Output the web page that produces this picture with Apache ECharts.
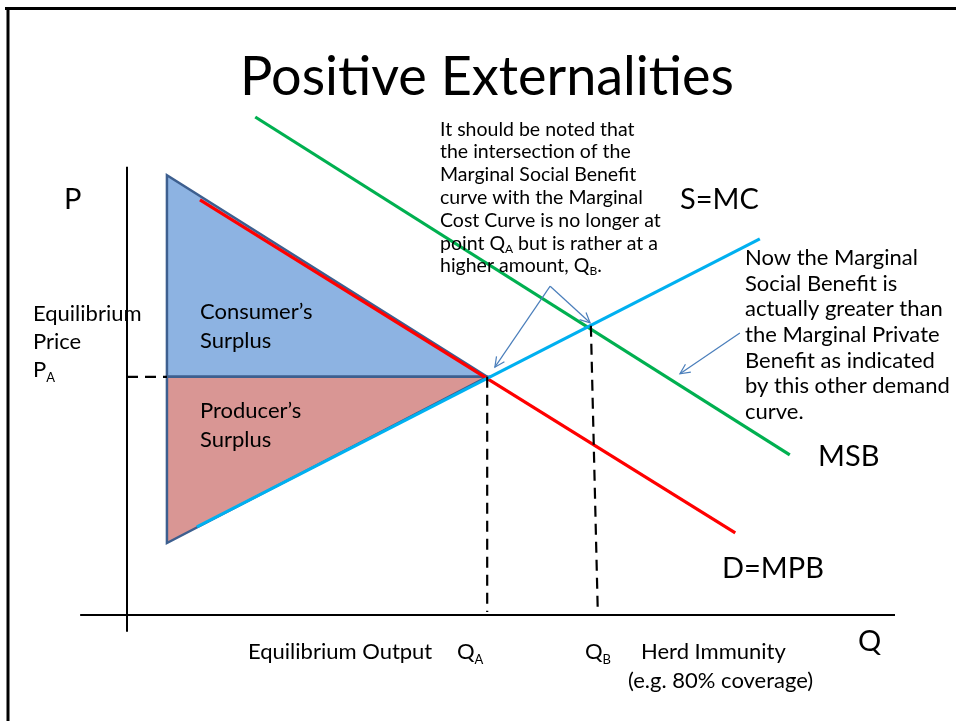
<!DOCTYPE html>
<html>
<head>
<meta charset="utf-8">
<script src="https://cdn.jsdelivr.net/npm/echarts@6/dist/echarts.min.js"></script>
<style>
html,body{margin:0;padding:0;background:#fff;}
#chart{width:956px;height:721px;}
</style>
</head>
<body>
<div id="chart"></div>
<script>
// ---- Data (chart units: quantity on x, price on y) ----
const axisQ = [[-6.1, 0], [100, 0]];
const axisP = [[0, 74.7], [0, -2.8]];
const demandMPB = [[9.5, 69.2], [79.2, 13.7]];
const supplyMC = [[9.1, 14.7], [82.4, 62.7]];
const benefitMSB = [[16.7, 83.0], [86.3, 26.7]];
const consumerSurplus = [[5.2, 73.3], [5.2, 39.7], [46.9, 39.7]];
const producerSurplus = [[5.2, 39.7], [46.9, 39.7], [5.2, 12.0]];
const priceGuidePA = [[0, 39.7], [5.2, 39.7]];
const outputGuideQA = [[46.9, 39.7], [46.9, 0.5]];
const outputGuideQB = [[60.4, 48.2], [61.3, 0.5]];
const calloutArrows = [
  [[55.1, 54.8], [47.9, 41.3]],
  [[55.1, 54.8], [60.3, 48.7]],
  [[79.8, 47.0], [72.0, 40.2]]
];
const titleText = 'Positive Externalities';
const calloutLines = [
  '{n|It should be noted that}',
  '{n|the intersection of the}',
  '{n|Marginal Social Benefit}',
  '{n|curve with the Marginal}',
  '{n|Cost Curve is no longer at}',
  '{n|point Q}{s|A}{n| but is rather at a}',
  '{n|higher amount, Q}{s|B}{n|.}'
];
const noteLines = [
  'Now the Marginal', 'Social Benefit is', 'actually greater than',
  'the Marginal Private', 'Benefit as indicated', 'by this other demand', 'curve.'
];

const FONT = 'Lato';
const chart = echarts.init(document.getElementById('chart'), null, {renderer: 'canvas'});

function pathSeries(points, color, width, dashed, z) {
  return {
    type: 'custom', data: [[0]], silent: true, animation: false, z: z || 3, clip: false,
    renderItem: function (params, api) {
      return {
        type: 'polyline',
        shape: {points: points.map(function (p) { return api.coord(p); })},
        style: {stroke: color, lineWidth: width, fill: null, lineDash: dashed ? [11, 7] : null, lineCap: 'butt'}
      };
    }
  };
}

function polygonSeries(points, fill, z) {
  return {
    type: 'custom', data: [[0]], silent: true, animation: false, z: z || 1, clip: false,
    renderItem: function (params, api) {
      return {
        type: 'polygon',
        shape: {points: points.map(function (p) { return api.coord(p); })},
        style: {fill: fill, stroke: '#3d5f8f', lineWidth: 2.5, lineJoin: 'miter'}
      };
    }
  };
}

const arrowSeries = {
  type: 'custom', data: calloutArrows.map(function (a, i) { return [i]; }),
  silent: true, animation: false, z: 6, clip: false,
  renderItem: function (params, api) {
    const a = calloutArrows[params.dataIndex];
    const p0 = api.coord(a[0]);
    const p1 = api.coord(a[1]);
    const ang = Math.atan2(p1[1] - p0[1], p1[0] - p0[0]);
    const L = 11, spread = 0.45;
    const h1 = [p1[0] - L * Math.cos(ang - spread), p1[1] - L * Math.sin(ang - spread)];
    const h2 = [p1[0] - L * Math.cos(ang + spread), p1[1] - L * Math.sin(ang + spread)];
    const st = {stroke: '#4a7ebb', lineWidth: 1.2, fill: null};
    return {
      type: 'group',
      children: [
        {type: 'polyline', shape: {points: [p0, p1]}, style: st},
        {type: 'polyline', shape: {points: [h1, p1, h2]}, style: st}
      ]
    };
  }
};

function richText(x, y, lines, size, lh, subSize) {
  return {
    type: 'text', x: x, y: y, z: 20, silent: true,
    style: {
      text: lines.join('\n'),
      align: 'left', verticalAlign: 'top', textAlign: 'left', textVerticalAlign: 'top',
      fill: '#000',
      rich: {
        n: {fontFamily: FONT, fontSize: size, lineHeight: lh, fill: '#000', color: '#000'},
        s: {fontFamily: FONT, fontSize: subSize || 13, lineHeight: subSize || 13, verticalAlign: 'bottom', fill: '#000', color: '#000'}
      }
    }
  };
}
function plain(x, y, lines, size, lh) {
  return richText(x, y, lines.map(function (l) { return '{n|' + l + '}'; }), size, lh);
}

const graphics = [
  {type: 'line', silent: true, z: 30, shape: {x1: 5, y1: 8.5, x2: 956, y2: 8.5}, style: {stroke: '#000', lineWidth: 3}},
  {type: 'line', silent: true, z: 30, shape: {x1: 8, y1: 7, x2: 8, y2: 721}, style: {stroke: '#000', lineWidth: 3}},
  {type: 'text', x: 487, y: 78, z: 20, silent: true,
   style: {text: titleText, font: '54px ' + FONT, fill: '#000', align: 'center', verticalAlign: 'middle', textAlign: 'center', textVerticalAlign: 'middle'}},
  richText(440, 118, calloutLines, 19.5, 22.8, 12),
  plain(745, 245, noteLines, 22, 25.7),
  plain(64, 185, ['P'], 29, 30),
  plain(680, 185, ['S=MC'], 29, 30),
  plain(818, 442, ['MSB'], 29, 30),
  plain(722, 554, ['D=MPB'], 29, 30),
  plain(858, 627, ['Q'], 29, 30),
  richText(33, 300, ['{n|Equilibrium}', '{n|Price}', '{n|P}{s|A}'], 22, 28, 13),
  plain(200, 297.5, ['Consumer\u2019s', 'Surplus'], 22, 29),
  plain(200, 397, ['Producer\u2019s', 'Surplus'], 22, 28.5),
  plain(248, 638, ['Equilibrium Output'], 22, 28),
  richText(457, 638, ['{n|Q}{s|A}'], 22, 28, 13),
  richText(585, 638, ['{n|Q}{s|B}'], 22, 28, 13),
  plain(641, 638, ['Herd Immunity'], 22, 28),
  plain(628, 667, ['(e.g. 80% coverage)'], 22, 28)
];

chart.setOption({
  backgroundColor: '#ffffff',
  animation: false,
  grid: {left: 127, top: 15, width: 768, height: 600, containLabel: false},
  xAxis: {type: 'value', min: 0, max: 100, show: false},
  yAxis: {type: 'value', min: 0, max: 100, show: false},
  series: [
    polygonSeries(consumerSurplus, '#8db3e2', 1),
    polygonSeries(producerSurplus, '#d99694', 1),
    pathSeries(axisQ, '#000', 2, false, 2),
    pathSeries(axisP, '#000', 2, false, 2),
    pathSeries(benefitMSB, '#00b050', 3.2, false, 3),
    pathSeries(demandMPB, '#ff0000', 3.2, false, 3),
    pathSeries(supplyMC, '#00b0f0', 3.2, false, 4),
    pathSeries(priceGuidePA, '#000', 2.2, true, 5),
    pathSeries(outputGuideQA, '#000', 2.2, true, 5),
    pathSeries(outputGuideQB, '#000', 2.2, true, 5),
    arrowSeries
  ],
  graphic: graphics
});
</script>
</body>
</html>
